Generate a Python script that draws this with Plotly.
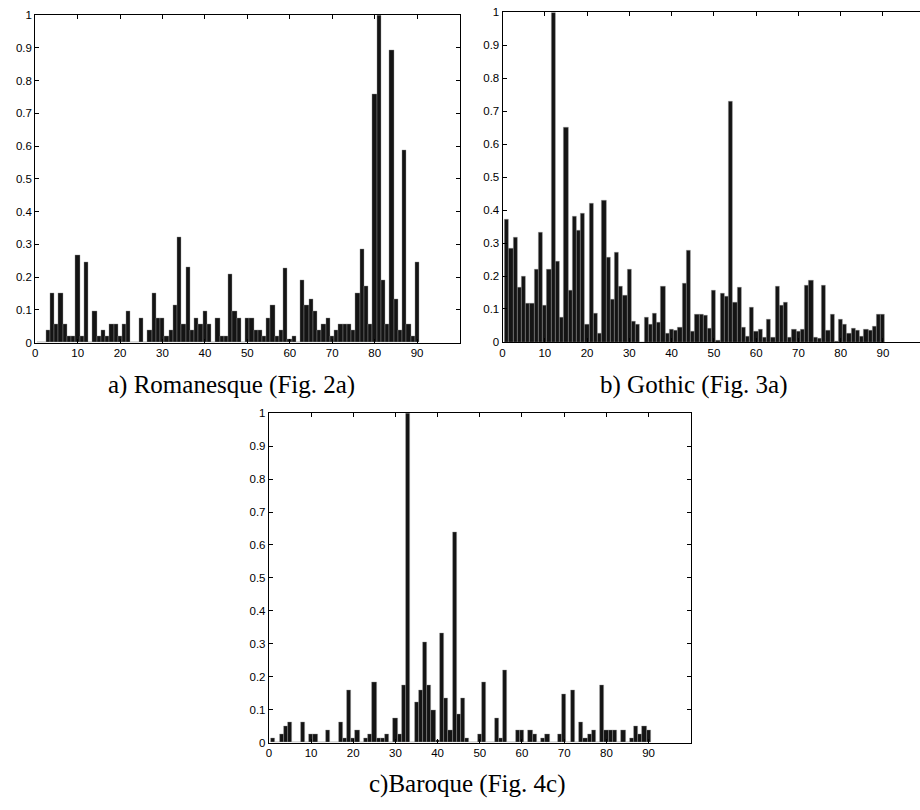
import plotly.graph_objects as go

idx = list(range(1, 91))

romanesque = [0, 0, 0.037, 0.15, 0.057, 0.15, 0.057, 0.019, 0.019, 0.266,
              0.019, 0.246, 0, 0.095, 0.019, 0.037, 0.019, 0.057, 0.057, 0.019,
              0.057, 0.095, 0, 0, 0.075, 0, 0.037, 0.15, 0.075, 0.075,
              0.019, 0.037, 0.113, 0.322, 0.057, 0.229, 0.037, 0.075, 0.057, 0.095,
              0.057, 0, 0.075, 0.019, 0.019, 0.208, 0.095, 0.075, 0, 0.075,
              0.075, 0.037, 0.037, 0.019, 0.075, 0.113, 0.019, 0.037, 0.228, 0.01,
              0.019, 0, 0.19, 0.113, 0.133, 0.095, 0.037, 0.057, 0.075, 0.019,
              0.037, 0.057, 0.057, 0.057, 0.037, 0.152, 0.284, 0.172, 0.057, 0.759,
              1.0, 0.19, 0.057, 0.892, 0.133, 0.037, 0.589, 0.057, 0.019, 0.246]

gothic = [0.371, 0.284, 0.318, 0.167, 0.199, 0.117, 0.117, 0.22, 0.331, 0.111,
          0.22, 1.0, 0.244, 0.073, 0.652, 0.155, 0.381, 0.338, 0.389, 0.053,
          0.421, 0.088, 0.027, 0.429, 0.258, 0.128, 0.272, 0.17, 0.14, 0.22,
          0.061, 0.053, 0, 0.073, 0.053, 0.088, 0.058, 0.17, 0.025, 0.038,
          0.035, 0.043, 0.179, 0.279, 0.033, 0.085, 0.083, 0.08, 0.041, 0.155,
          0.006, 0.146, 0.138, 0.731, 0.12, 0.167, 0.045, 0.018, 0.106, 0.033,
          0.038, 0.013, 0.068, 0.013, 0.17, 0.111, 0.119, 0.013, 0.038, 0.033,
          0.038, 0.173, 0.187, 0.015, 0.01, 0.173, 0.035, 0.083, 0.003, 0.068,
          0.053, 0.025, 0.041, 0.035, 0.018, 0.038, 0.035, 0.048, 0.083, 0.085]

baroque = [0.014, 0, 0.025, 0.049, 0.063, 0, 0, 0.063, 0, 0.025,
           0.025, 0, 0, 0.037, 0, 0, 0.063, 0.014, 0.159, 0.012,
           0.037, 0, 0.014, 0.025, 0.185, 0.014, 0.014, 0.025, 0, 0.075,
           0.025, 0.173, 1.0, 0, 0.124, 0.159, 0.306, 0.173, 0.098, 0.008,
           0.333, 0.136, 0.037, 0.64, 0.086, 0.136, 0.014, 0, 0, 0.025,
           0.185, 0, 0, 0.075, 0.014, 0.219, 0, 0, 0.037, 0.037,
           0, 0.037, 0.025, 0, 0.014, 0.025, 0, 0, 0.025, 0.147,
           0, 0.159, 0, 0.063, 0.014, 0.025, 0.037, 0, 0.173, 0.037,
           0.037, 0.037, 0, 0.037, 0, 0.014, 0.049, 0.025, 0.049, 0.037]

x_ticks = [0, 10, 20, 30, 40, 50, 60, 70, 80, 90]
y_ticks = [0, 0.1, 0.2, 0.3, 0.4, 0.5, 0.6, 0.7, 0.8, 0.9, 1]
y_tick_text = ["0", "0.1", "0.2", "0.3", "0.4", "0.5", "0.6", "0.7", "0.8", "0.9", "1"]

captions = ["a) Romanesque (Fig. 2a)", "b) Gothic (Fig. 3a)", "c)Baroque (Fig. 4c)"]

W, H = 920, 810

def px_x(p):
    return p / W

def px_y(p):
    return 1 - p / H

fig = go.Figure()

series = [romanesque, gothic, baroque]
axes = [("x", "y"), ("x2", "y2"), ("x3", "y3")]
for s, (xa, ya) in zip(series, axes):
    fig.add_trace(go.Bar(
        x=idx, y=s, xaxis=xa, yaxis=ya, width=1.0,
        marker=dict(color="#141414", line=dict(color="#9a9a9a", width=0.4)),
        showlegend=False,
    ))

tickfont = dict(family="Liberation Sans, Arial, sans-serif", size=11.5, color="black")

def xax(domain, rng, anchor):
    return dict(domain=domain, range=rng, anchor=anchor, tickvals=x_ticks,
                ticks="inside", ticklen=4, tickwidth=1, tickcolor="black",
                showline=True, linecolor="black", linewidth=1, mirror="ticks",
                showgrid=False, zeroline=False, tickfont=tickfont, fixedrange=True)

def yax(domain, anchor, mirror):
    return dict(domain=domain, range=[0, 1], anchor=anchor, tickvals=y_ticks,
                ticktext=y_tick_text, ticks="inside", ticklen=4, tickwidth=1,
                tickcolor="black", showline=True, linecolor="black", linewidth=1,
                mirror=mirror, showgrid=False, zeroline=False, tickfont=tickfont,
                fixedrange=True)

fig.update_layout(
    width=W, height=H,
    margin=dict(l=0, r=0, t=0, b=0),
    paper_bgcolor="white", plot_bgcolor="white",
    bargap=0,
    xaxis=xax([px_x(32.3), px_x(458)], [0, 100], "y"),
    yaxis=yax([px_y(341.7), px_y(9.3)], "x", "ticks"),
    xaxis2=xax([px_x(501.2), 1.0], [0, (W - 501.2) / 4.24], "y2"),
    yaxis2=yax([px_y(341), px_y(6.5)], "x2", False),
    xaxis3=xax([px_x(266.7), px_x(690)], [0, 100], "y3"),
    yaxis3=yax([px_y(747.7), px_y(413.3)], "x3", "ticks"),
)

capfont = dict(family="Liberation Serif, DejaVu Serif, serif", size=25, color="black")
cap_pos = [(229, 385), (693, 385), (466, 790)]
for text, (cx, cy) in zip(captions, cap_pos):
    fig.add_annotation(text=text, x=px_x(cx), y=px_y(cy), xref="paper", yref="paper",
                       showarrow=False, font=capfont, xanchor="center", yanchor="middle")

fig.write_html(
    "out.html",
    config={"displayModeBar": False},
    post_script="document.body.style.margin='0';document.body.style.overflow='hidden';",
)
